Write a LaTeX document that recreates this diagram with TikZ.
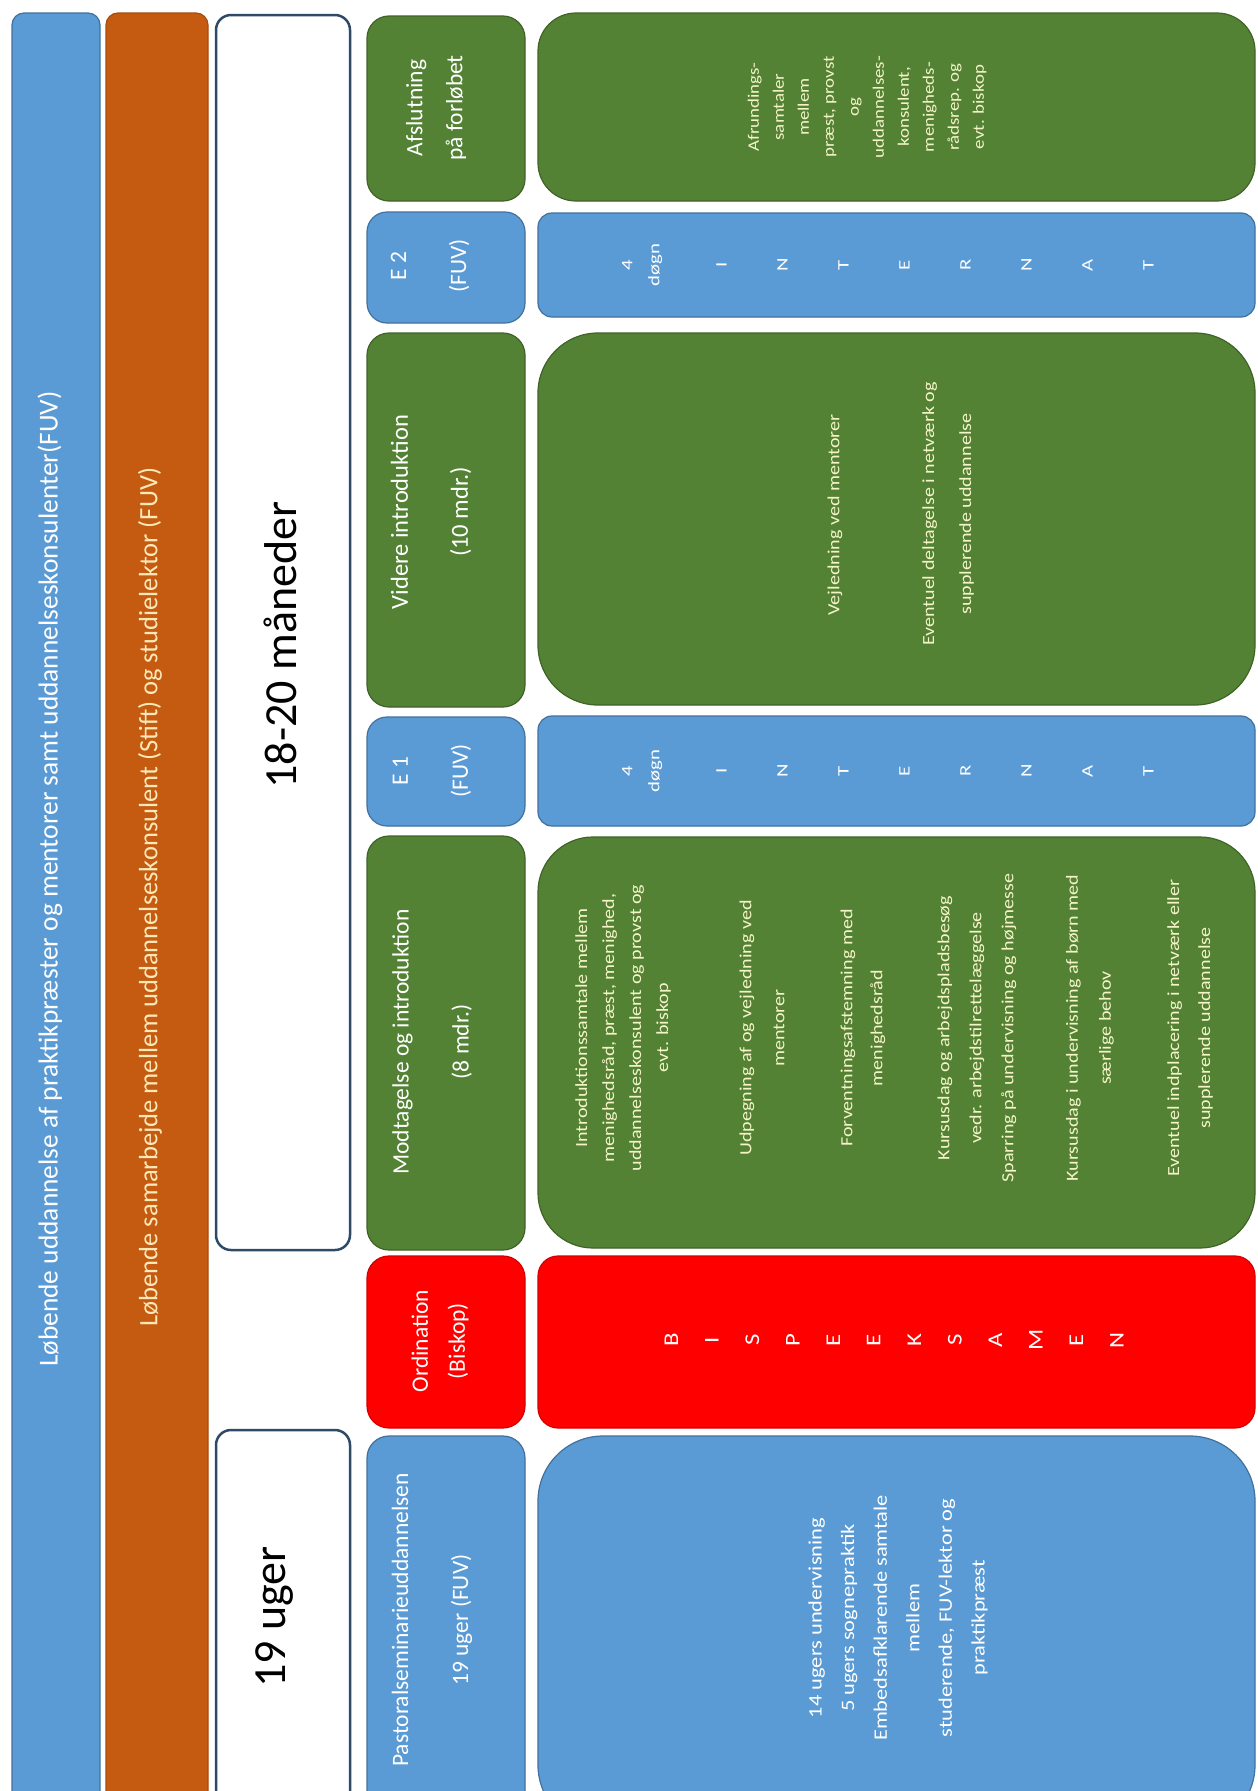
\documentclass[tikz,border=0pt]{standalone}
\usepackage{fontspec}
\setmainfont{Carlito}
\newfontfamily\widefont[FakeStretch=1.18]{Carlito}
\newfontfamily\xwidefont[FakeStretch=1.3]{Carlito}
\definecolor{fblue}{HTML}{5B9BD5}
\definecolor{fblueline}{HTML}{41719C}
\definecolor{forange}{HTML}{C55A11}
\definecolor{forangeline}{HTML}{A84C0E}
\definecolor{fgreen}{HTML}{548235}
\definecolor{fgreenline}{HTML}{3F6328}
\definecolor{fred}{HTML}{FF0000}
\definecolor{fredline}{HTML}{D40000}
\definecolor{fframe}{HTML}{2E4A66}
\definecolor{gtext}{HTML}{F4F4C8}
\definecolor{otext}{HTML}{FDE9B8}
\tikzset{
  bluebox/.style={fill=fblue, draw=fblueline, line width=1.2pt},
  orangebox/.style={fill=forange, draw=forangeline, line width=1.2pt},
  greenbox/.style={fill=fgreen, draw=fgreenline, line width=1.2pt},
  redbox/.style={fill=fred, draw=fredline, line width=1.2pt},
  whitebox/.style={fill=white, draw=fframe, line width=2.5pt, rounded corners=15pt},
  rtxt/.style={rotate=90, align=center, inner sep=0pt},
  headtxt/.style={rtxt, text=white, font=\fontsize{23.5}{60}\selectfont},
  headtxtb/.style={rtxt, text=white, font=\fontsize{23.5}{40}\selectfont},
  gtxt/.style={rtxt, text=gtext},
}
\begin{document}
\begin{tikzpicture}[x=1pt,y=-1pt]
\useasboundingbox (0,0) rectangle (1258,1791);
\clip (0,0) rectangle (1258,1791);
\fill[white] (0,0) rectangle (1258,1791);

% long bars
\draw[bluebox, rounded corners=12pt] (12,13) rectangle (100,1830);
\draw[orangebox, rounded corners=12pt] (106,13) rectangle (208,1830);
\node[rtxt, text=white, font=\fontsize{27.4}{32}\selectfont] (barblue) at (50,879)
  {Løbende uddannelse af praktikpræster og mentorer samt uddannelseskonsulenter(FUV)};
\node[rtxt, text=otext, font=\fontsize{26.5}{32}\selectfont] (barorange) at (150,897)
  {Løbende samarbejde mellem uddannelseskonsulent (Stift) og studielektor (FUV)};

% duration boxes
\draw[whitebox] (216,15) rectangle (350,1250);
\draw[whitebox] (216,1430) rectangle (350,1830);
\node[rtxt, text=black, font=\fontsize{46}{52}\selectfont] (dur1820) at (280,645) {18-20 måneder};
\node[rtxt, text=black, font=\fontsize{46}{52}\selectfont] (dur19) at (275,1617) {19 uger};

% header row
\draw[greenbox, rounded corners=22pt] (367,16) rectangle (525,201);
\draw[bluebox, rounded corners=20pt] (367,212) rectangle (525,323);
\draw[greenbox, rounded corners=22pt] (367,333) rectangle (525,707);
\draw[bluebox, rounded corners=20pt] (367,717) rectangle (525,826);
\draw[greenbox, rounded corners=22pt] (367,836) rectangle (525,1250);
\draw[redbox, rounded corners=22pt] (367,1256) rectangle (525,1428);
\draw[bluebox, rounded corners=22pt] (367,1436) rectangle (525,1830);

\node[headtxtb] (hafs) at (436,108) {Afslutning\\på forløbet};
\node[headtxt] (he2) at (430,266) {E 2\\(FUV)};
\node[headtxt, font=\fontsize{24.5}{60}\selectfont] (hvid) at (431,512) {Videre introduktion\\(10 mdr.)};
\node[headtxt] (he1) at (432,771) {E 1\\(FUV)};
\node[headtxt] (hmod) at (432,1042) {Modtagelse og introduktion\\(8 mdr.)};
\node[headtxtb, font=\fontsize{23.5}{37}\selectfont] (hord) at (440,1341) {Ordination\\(Biskop)};
\node[headtxt] (hpas) at (432,1620) {Pastoralseminarieuddannelsen\\19 uger (FUV)};

% content row
\draw[greenbox, rounded corners=38pt] (538,13) rectangle (1255,201);
\draw[bluebox, rounded corners=14pt] (538,213) rectangle (1255,317);
\draw[greenbox, rounded corners=60pt] (538,333) rectangle (1255,705);
\draw[bluebox, rounded corners=14pt] (538,716) rectangle (1255,826);
\draw[greenbox, rounded corners=55pt] (538,837) rectangle (1255,1248);
\draw[redbox, rounded corners=20pt] (538,1256) rectangle (1255,1428);
\draw[bluebox, rounded corners=65pt] (538,1436) rectangle (1255,1830);

% Afslutning content
\node[gtxt, font=\widefont\fontsize{16}{25}\selectfont] (cafs) at (867,107)
  {Afrundings-\\samtaler\\mellem\\præst, provst\\og\\uddannelses-\\konsulent,\\menigheds-\\rådsrep. og\\evt. biskop};

% E2 content
\node[rtxt, text=white, font=\xwidefont\fontsize{16}{27}\selectfont] (ce2a) at (642,265) {4\\døgn};
\node[rtxt, text=white, font=\xwidefont\fontsize{16}{61}\selectfont] (ce2b) at (935,265) {I\\N\\T\\E\\R\\N\\A\\T};

% Videre content
\node[gtxt, font=\widefont\fontsize{17}{30}\selectfont] (cvid1) at (835,515) {Vejledning ved mentorer};
\node[gtxt, font=\widefont\fontsize{17}{37}\selectfont] (cvid2) at (948,514)
  {Eventuel deltagelse i netværk og\\supplerende uddannelse};

% E1 content
\node[rtxt, text=white, font=\xwidefont\fontsize{16}{27}\selectfont] (ce1a) at (642,771) {4\\døgn};
\node[rtxt, text=white, font=\xwidefont\fontsize{16}{61}\selectfont] (ce1b) at (935,771) {I\\N\\T\\E\\R\\N\\A\\T};

% Modtagelse content
\node[gtxt, font=\widefont\fontsize{17}{27}\selectfont] (cmod1) at (623,1028)
  {Introduktionssamtale mellem\\menighedsråd, præst, menighed,\\uddannelseskonsulent og provst og\\evt. biskop};
\node[gtxt, font=\widefont\fontsize{17}{33}\selectfont] (cmod2) at (762,1028)
  {Udpegning af og vejledning ved\\mentorer};
\node[gtxt, font=\widefont\fontsize{17}{30}\selectfont] (cmod3) at (863,1028) {Forventningsafstemning med\\menighedsråd};
\node[gtxt, font=\widefont\fontsize{17}{32}\selectfont] (cmod4) at (977,1028)
  {Kursusdag og arbejdspladsbesøg\\vedr. arbejdstilrettelæggelse\\Sparring på undervisning og højmesse};
\node[gtxt, font=\widefont\fontsize{17}{33}\selectfont] (cmod5) at (1090,1028)
  {Kursusdag i undervisning af børn med\\særlige behov};
\node[gtxt, font=\widefont\fontsize{17}{31}\selectfont] (cmod6) at (1190,1028)
  {Eventuel indplacering i netværk eller\\supplerende uddannelse};

% Ordination content
\node[rtxt, text=white, font=\widefont\fontsize{21}{40.5}\selectfont] (cord) at (894,1340)
  {B\\I\\S\\P\\E\\E\\K\\S\\A\\M\\E\\N};

% Pastoral content
\node[rtxt, text=white, font=\widefont\fontsize{19}{32.6}\selectfont] (cpas) at (898,1618)
  {14 ugers undervisning\\5 ugers sognepraktik\\Embedsafklarende samtale\\mellem\\studerende, FUV-lektor og\\praktikpræst};
\end{tikzpicture}
\end{document}
